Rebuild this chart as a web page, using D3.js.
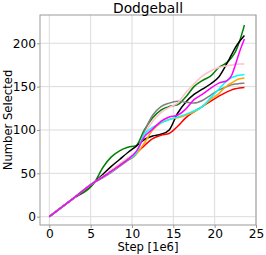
<!DOCTYPE html>
<html lang="en">
<head>
    <meta charset="UTF-8">
    <title>Dodgeball</title>
    <script src="https://d3js.org/d3.v7.min.js"></script>
    <style>
        body {
            margin: 0;
            padding: 0;
            background: #fff;
            overflow: hidden;
        }
        svg {
            display: block;
            font-family: "DejaVu Sans", sans-serif;
        }
        .grid line {
            stroke: #dcdcdc;
            stroke-width: 1;
        }
        .series {
            fill: none;
            stroke-width: 1.5;
        }
    </style>
</head>
<body>
    <svg id="chart" width="266" height="255"></svg>

    <script>
        // shared x positions (steps, in 1e6)
        const steps = [0, 2.75, 5.5, 6.5, 7.5, 8.5, 9.5, 10.5, 11.5, 12.5, 13.5, 14.5, 15.5,
                       16.5, 17.5, 18.5, 19.5, 20.5, 21.5, 22, 22.5, 23, 23.6];

        // number selected, one array per run
        const green   = [0, 20, 40, 57, 69, 76, 80, 82, 100, 114, 123, 127, 129, 138, 150, 157, 162, 172, 178, 183, 190, 202, 221];
        const black   = [0, 20, 40, 49, 58, 66, 74, 81, 89, 93, 95, 100, 119, 132, 141, 147, 153, 161, 177, 186, 195, 202, 209];
        const gray    = [0, 20, 40, 45, 51, 58, 65, 72, 98, 117, 127, 131, 133, 132, 131, 134, 140, 146, 150, 152, 153, 153.5, 154];
        const pink    = [0, 20, 40, 47, 54, 61, 68, 75, 95, 110, 120, 126, 131, 143, 153, 162, 168, 172, 174, 175, 175.5, 176, 176];
        const red     = [0, 20, 40, 46, 52, 59, 66, 73, 82, 90, 94, 96, 104, 114, 121, 127, 133, 139, 144, 146, 147.5, 148.5, 149];
        const orange  = [0, 20, 40, 46, 52, 59, 66, 72, 85, 100, 108, 112, 114, 117, 121, 127, 135, 142, 151, 154, 157, 159, 160];
        const cyan    = [0, 20, 40, 46, 52, 59, 66, 73, 95, 103, 108, 112, 115, 118, 122, 127, 137, 147, 157, 160, 162, 163, 164];
        const magenta = [0, 20, 40, 46, 52.5, 59, 66, 75, 92, 101, 110, 115, 117, 124, 135, 141, 148, 154, 157, 162, 175, 190, 205];

        const runs = [
            { color: "green", values: green },
            { color: "black", values: black },
            { color: "gray", values: gray },
            { color: "pink", values: pink },
            { color: "red", values: red },
            { color: "orange", values: orange },
            { color: "cyan", values: cyan },
            { color: "magenta", values: magenta }
        ];

        const xTicks = [0, 5, 10, 15, 20, 25];
        const yTicks = [0, 50, 100, 150, 200];

        const margin = { top: 15, right: 10, bottom: 30, left: 40 };
        const width = 266 - margin.left - margin.right;
        const height = 255 - margin.top - margin.bottom;

        const svg = d3.select("#chart");
        const g = svg.append("g").attr("transform", `translate(${margin.left},${margin.top})`);

        const x = d3.scaleLinear().domain([-1.125, 25]).range([0, width]);
        const y = d3.scaleLinear().domain([-9.6, 232.6]).range([height, 0]);

        // grid lines
        g.append("g")
            .attr("class", "grid")
            .selectAll("line.v")
            .data(xTicks)
            .enter().append("line")
            .attr("x1", d => x(d)).attr("x2", d => x(d))
            .attr("y1", 0).attr("y2", height);

        g.append("g")
            .attr("class", "grid")
            .selectAll("line.h")
            .data(yTicks)
            .enter().append("line")
            .attr("x1", 0).attr("x2", width)
            .attr("y1", d => y(d)).attr("y2", d => y(d));

        const line = d3.line()
            .x((d, i) => x(steps[i]))
            .y(d => y(d))
            .curve(d3.curveMonotoneX);

        g.append("g")
            .selectAll("path")
            .data(runs)
            .enter().append("path")
            .attr("class", "series")
            .attr("stroke", d => d.color)
            .attr("d", d => line(d.values));

        // axes
        const xAxis = g.append("g")
            .attr("transform", `translate(0,${height})`)
            .call(d3.axisBottom(x).tickValues(xTicks).tickSize(3).tickPadding(1));
        const yAxis = g.append("g")
            .call(d3.axisLeft(y).tickValues(yTicks).tickSize(3).tickPadding(1));

        [xAxis, yAxis].forEach(a => {
            a.select(".domain").remove();
            a.selectAll(".tick line").attr("stroke", "#999");
            a.selectAll(".tick text")
                .attr("fill", "#000")
                .style("font-size", "12.2px")
                .style("font-family", "DejaVu Sans, sans-serif");
        });

        // frame
        g.append("rect")
            .attr("width", width)
            .attr("height", height)
            .attr("fill", "none")
            .attr("stroke", "#999")
            .attr("stroke-width", 1);

        // title and labels
        svg.append("text")
            .attr("x", margin.left + width / 2)
            .attr("y", 12.5)
            .attr("text-anchor", "middle")
            .style("font-size", "13.8px")
            .text("Dodgeball");

        svg.append("text")
            .attr("x", margin.left + width / 2)
            .attr("y", 251)
            .attr("text-anchor", "middle")
            .style("font-size", "11.6px")
            .text("Step [1e6]");

        svg.append("text")
            .attr("transform", `translate(12,${margin.top + height / 2}) rotate(-90)`)
            .attr("text-anchor", "middle")
            .style("font-size", "11.6px")
            .text("Number Selected");
    </script>
</body>
</html>
